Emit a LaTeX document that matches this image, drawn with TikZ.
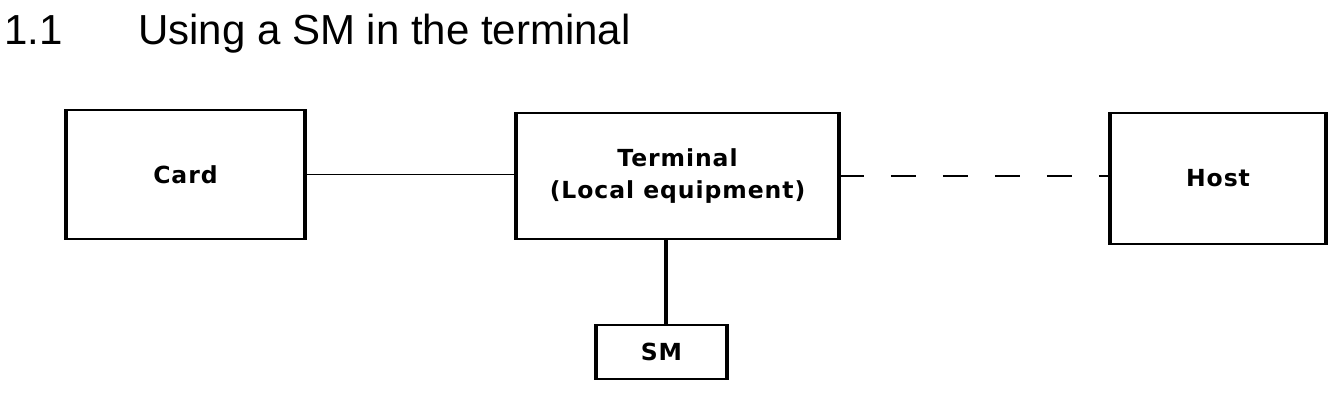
\documentclass[tikz,border=0pt]{standalone}
\usepackage{fontspec}
\setmainfont{Liberation Sans}
\newfontfamily\boxfont[LetterSpace=4]{DejaVu Sans}
\begin{document}
\begin{tikzpicture}
		[x=1pt,y=-1pt,
		unit/.style={draw,line width=1.5pt,inner sep=0pt,align=center,
			font=\boxfont\bfseries\fontsize{23.5}{32}\selectfont},
		side/.style={line width=4pt},
		heading/.style={anchor=base west,inner sep=0pt,font=\fontsize{42}{48}\selectfont}]
		\useasboundingbox (0,0) rectangle (1344,419);
		\node[heading] (num) at (4,45) {1.1};
		\node[heading] (title) at (138,45) {Using a SM in the terminal};
		\node[unit,minimum width=237pt,minimum height=129pt] (card) at (185.5,174.5) {Card};
		\node[unit,minimum width=321pt,minimum height=126pt] (term) at (677.5,176) {Terminal\\(Local equipment)};
		\node[unit,minimum width=214pt,minimum height=131pt] (host) at (1218,178.5) {Host};
		\node[unit,minimum width=129pt,minimum height=54pt] (sm) at (661.5,352) {SM};
		% heavy left and right sides
		\foreach \b in {card,term,host,sm}{
			\draw[side] (\b.north west) -- (\b.south west);
			\draw[side] (\b.north east) -- (\b.south east);
		}
		\coordinate (tap) at (666,0);
		\draw[line width=1.5pt] (card.east) -- (card.east -| term.west);
		\draw[line width=2.5pt,dash pattern=on 25pt off 27pt] (term.east) -- (term.east -| host.west);
		\draw[side] (term.south -| tap) -- (sm.north -| tap);
	\end{tikzpicture}
\end{document}
